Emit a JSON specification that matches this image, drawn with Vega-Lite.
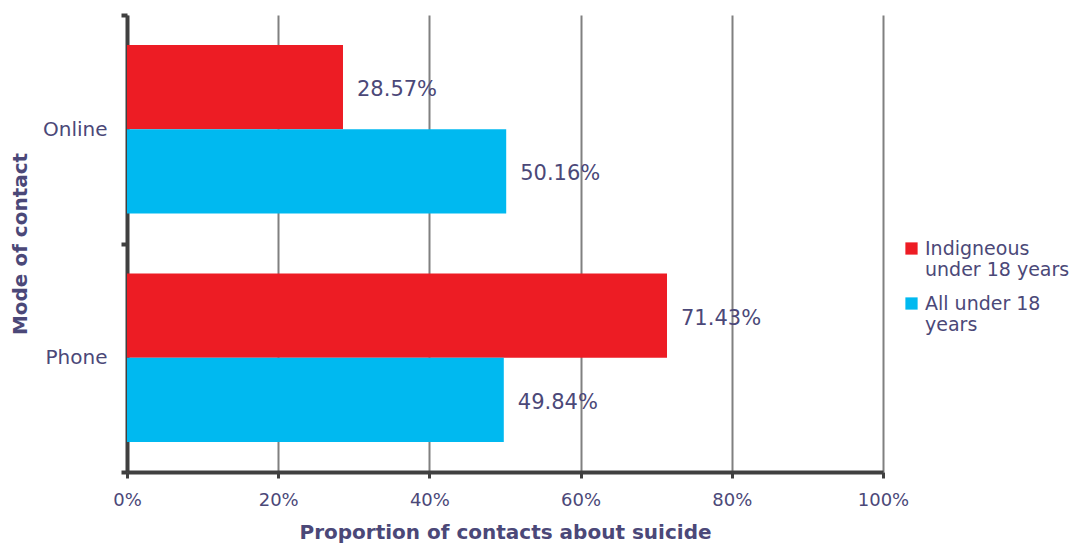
{
  "$schema": "https://vega.github.io/schema/vega-lite/v6.json",
  "autosize": "none",
  "width": 756,
  "height": 457,
  "padding": {"left": 127, "top": 15, "right": 199, "bottom": 72},
  "background": "white",
  "config": {
    "view": {"stroke": null},
    "font": "DejaVu Sans",
    "axis": {"labelColor": "#4b4878", "titleColor": "#4b4878"}
  },
  "data": {
    "values": [
      {"mode": "Online", "group": "Indigneous under 18 years", "value": 0.2857, "label": "28.57%"},
      {"mode": "Online", "group": "All under 18 years", "value": 0.5016, "label": "50.16%"},
      {"mode": "Phone", "group": "Indigneous under 18 years", "value": 0.7143, "label": "71.43%"},
      {"mode": "Phone", "group": "All under 18 years", "value": 0.4984, "label": "49.84%"}
    ]
  },
  "encoding": {
    "y": {
      "field": "mode",
      "type": "nominal",
      "sort": ["Online", "Phone"],
      "scale": {"paddingInner": 0, "paddingOuter": 0},
      "axis": {
        "title": "Mode of contact",
        "titleFontSize": 20,
        "titleFontWeight": "bold",
        "titlePadding": 12,
        "labelFontSize": 20,
        "labelPadding": 14,
        "tickBand": "extent",
        "tickSize": 6,
        "tickWidth": 4,
        "tickColor": "#404040",
        "domainColor": "#404040",
        "domainWidth": 4,
        "grid": false
      }
    },
    "yOffset": {
      "field": "group",
      "type": "nominal",
      "sort": ["Indigneous under 18 years", "All under 18 years"],
      "scale": {"paddingInner": 0, "paddingOuter": 0.357}
    },
    "x": {
      "field": "value",
      "type": "quantitative",
      "scale": {"domain": [0, 1], "nice": false},
      "axis": {
        "title": "Proportion of contacts about suicide",
        "titleFontSize": 20,
        "titleFontWeight": "bold",
        "titlePadding": 13,
        "format": ".0%",
        "values": [0, 0.2, 0.4, 0.6, 0.8, 1],
        "labelFontSize": 18,
        "labelPadding": 13,
        "labelFlush": false,
        "tickSize": 6,
        "tickWidth": 3,
        "tickColor": "#404040",
        "domainColor": "#404040",
        "domainWidth": 4,
        "grid": true,
        "gridColor": "#808080",
        "gridWidth": 2,
        "gridOpacity": 1
      }
    }
  },
  "layer": [
    {
      "mark": {"type": "bar"},
      "encoding": {
        "color": {
          "field": "group",
          "type": "nominal",
          "sort": ["Indigneous under 18 years", "All under 18 years"],
          "scale": {"range": ["#ed1c24", "#00b9f0"]},
          "legend": {
            "title": null,
            "orient": "none",
            "legendX": 775,
            "legendY": 224,
            "symbolType": "square",
            "symbolSize": 150,
            "symbolStrokeWidth": 0,
            "labelFontSize": 19,
            "labelLineHeight": 24,
            "labelColor": "#4b4878",
            "labelLimit": 300,
            "labelOffset": 4,
            "rowPadding": 14,
            "labelExpr": "datum.label == 'Indigneous under 18 years' ? ['Indigneous', 'under 18 years'] : ['All under 18', 'years']"
          }
        }
      }
    },
    {
      "mark": {
        "type": "text",
        "align": "left",
        "baseline": "middle",
        "dx": 14,
        "dy": 3,
        "fontSize": 21,
        "color": "#4b4878"
      },
      "encoding": {"text": {"field": "label"}}
    }
  ]
}
